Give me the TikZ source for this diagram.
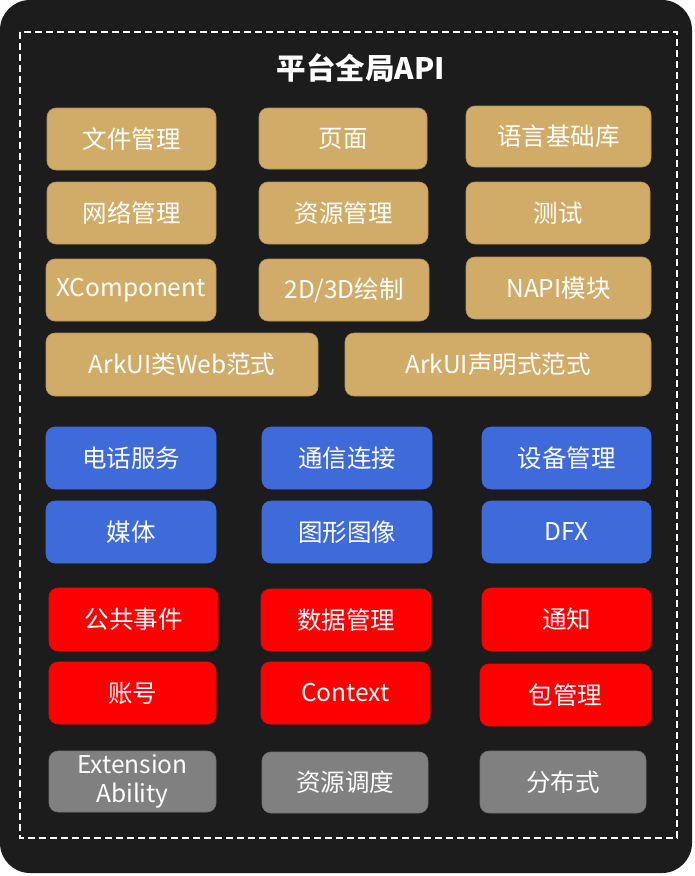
\documentclass[tikz,border=0pt]{standalone}
\usepackage{fontspec}
\setmainfont{Noto Sans CJK SC}
\usetikzlibrary{calc}
\definecolor{bgdark}{HTML}{1C1C1C}
\definecolor{goldc}{HTML}{D1AC68}
\definecolor{bluec}{HTML}{3F6AD9}
\definecolor{redc}{HTML}{FF0000}
\definecolor{grayc}{HTML}{808080}
\tikzset{
  base/.style={rounded corners=9pt, inner sep=0pt, text=white, line width=0.6pt,
    font=\fontsize{24.5}{29}\selectfont, align=center},
  goldbox/.style={base, fill=goldc, draw=goldc!85!black},
  bluebox/.style={base, fill=bluec, draw=bluec},
  redbox/.style={base, fill=redc, draw=redc},
  graybox/.style={base, fill=grayc, draw=grayc!90!black},
}
\newcommand\mybox[7]{%
  \node[#1, minimum width={(#5-#3)*1pt}, minimum height={(#6-#4)*1pt}]
    (#2) at ({(#3+#5)/2},{(#4+#6)/2}) {#7};}
\begin{document}
\begin{tikzpicture}[x=1pt,y=-1pt]
\useasboundingbox (0,0) rectangle (695,876);
\fill[white] (0,0) rectangle (695,876);
\fill[bgdark, rounded corners=30pt] (0,0) rectangle (692,873);
\draw[white, dashed, line width=2pt, dash pattern=on 7pt off 4pt] (20,32) rectangle (677,838);
\node[text=white, font=\fontsize{29.5}{33}\selectfont\bfseries] (title) at (361,68) {平台全局API};
% gold
\mybox{goldbox}{wj}{47}{108}{216}{170}{文件管理}
\mybox{goldbox}{ym}{259}{108}{427}{169}{页面}
\mybox{goldbox}{yy}{466}{106}{651}{167}{语言基础库}
\mybox{goldbox}{wl}{47}{182}{216}{244}{网络管理}
\mybox{goldbox}{zy}{259}{182}{428}{244}{资源管理}
\mybox{goldbox}{cs}{466}{182}{650}{244}{测试}
\mybox{goldbox}{xc}{46}{259}{216}{321}{XComponent}
\mybox{goldbox}{hz}{259}{259}{429}{321}{2D/3D绘制}
\mybox{goldbox}{na}{466}{257}{651}{319}{NAPI模块}
\mybox{goldbox}{aw}{46}{333}{318}{396}{ArkUI类Web范式}
\mybox{goldbox}{as}{345}{333}{651}{396}{ArkUI声明式范式}
% blue
\mybox{bluebox}{dh}{46}{427}{216}{489}{电话服务}
\mybox{bluebox}{tx}{262}{427}{432}{489}{通信连接}
\mybox{bluebox}{sb}{482}{427}{651}{489}{设备管理}
\mybox{bluebox}{mt}{46}{501}{216}{563}{媒体}
\mybox{bluebox}{tt}{262}{501}{432}{563}{图形图像}
\mybox{bluebox}{dfx}{482}{501}{651}{563}{DFX}
% red
\mybox{redbox}{gg}{49}{588}{218}{651}{公共事件}
\mybox{redbox}{sj}{261}{589}{431}{651}{数据管理}
\mybox{redbox}{tz}{482}{588}{651}{651}{通知}
\mybox{redbox}{zh}{49}{662}{216}{724}{账号}
\mybox{redbox}{ct}{261}{662}{430}{724}{Context}
\mybox{redbox}{bg}{480}{664}{651}{726}{包管理}
% gray
\mybox{graybox}{ea}{49}{751}{216}{812}{Extension\\[0pt]Ability}
\mybox{graybox}{zd}{262}{752}{428}{813}{资源调度}
\mybox{graybox}{fb}{480}{751}{646}{813}{分布式}
\end{tikzpicture}
\end{document}
